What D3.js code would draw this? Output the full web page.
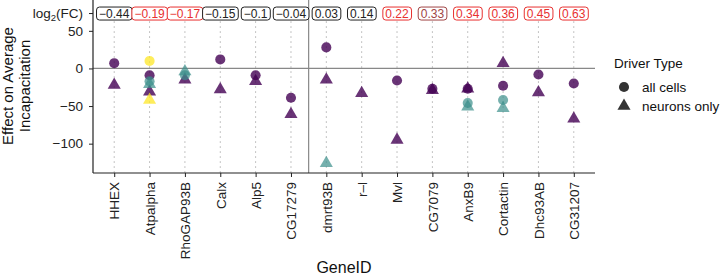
<!DOCTYPE html>
<html>
<head>
<meta charset="utf-8">
<script src="https://cdn.jsdelivr.net/npm/d3@7"></script>
<style>
  body { margin: 0; background: #fff; }
  text { font-family: "Liberation Sans", Arial, sans-serif; }
</style>
</head>
<body>
<div id="chart-area"></div>
<script>
// genes, ordered by log2 fold change
var genes = ["HHEX", "Atpalpha", "RhoGAP93B", "Calx", "Alp5", "CG17279", "dmrt93B",
    "r\u2013l", "Mvl", "CG7079", "AnxB9", "Cortactin", "Dhc93AB", "CG31207"];
var log2fc = ["\u22120.44", "\u22120.19", "\u22120.17", "\u22120.15", "\u22120.1", "\u22120.04", "0.03",
    "0.14", "0.22", "0.33", "0.34", "0.36", "0.45", "0.63"];
// 0 = not significant, 1 = significant, 2 = mixed
var fcFlag = [0, 1, 1, 0, 0, 0, 0, 0, 1, 2, 1, 1, 1, 1];

// effect values per gene (null = no point)
var purpleCells   = [7, -9, null, 12, -9, -39, 28, null, -16, -27, -27, -23, -8, -20];
var purpleNeurons = [-22, -31, -15, -28, -17, -61, -15, -33, -95, -29, -27, 7, -32, -67];
var tealCells     = [null, -17, -9, null, null, null, null, null, null, null, -46, -42, null, null];
var tealNeurons   = [null, -21, -4, null, null, null, -126, null, null, null, -51, -53, null, null];
var yellowCells   = [null, 10, null, null, null, null, null, null, null, null, null, null, null, null];
var yellowNeurons = [null, -42, null, null, null, null, null, null, null, null, null, null, null, null];

var yTicks = [50, 0, -50, -100];
var fcRow = 73;

var margin = {left: 93, right: 125, top: 0, bottom: 103};
var width = 720 - margin.left - margin.right;
var height = 276 - margin.top - margin.bottom;

var svg = d3.select("#chart-area").append("svg")
    .attr("width", 720)
    .attr("height", 276);
var g = svg.append("g")
    .attr("transform", "translate(" + margin.left + "," + margin.top + ")");

var x = d3.scalePoint()
    .domain(genes)
    .range([0, width])
    .padding(0.6);
var y = d3.scaleLinear()
    .domain([-139, 91])
    .range([height, 0]);

// dotted guide lines
g.selectAll(".guide")
    .data(genes)
    .enter().append("line")
    .attr("x1", d => x(d)).attr("x2", d => x(d))
    .attr("y1", y(fcRow) + 8).attr("y2", height)
    .attr("stroke", "#8a8a8a")
    .attr("stroke-width", 1)
    .attr("stroke-dasharray", "1,4");

// zero line and separator
g.append("line")
    .attr("x1", 0).attr("x2", width)
    .attr("y1", y(0)).attr("y2", y(0))
    .attr("stroke", "#888").attr("stroke-width", 1.2);
g.append("line")
    .attr("x1", (x(genes[5]) + x(genes[6])) / 2)
    .attr("x2", (x(genes[5]) + x(genes[6])) / 2)
    .attr("y1", 0).attr("y2", height)
    .attr("stroke", "#888").attr("stroke-width", 1.2);

// points
var circle = d3.symbol().type(d3.symbolCircle).size(80);
var tri = d3.symbol().type(d3.symbolTriangle).size(74);
function drawSeries(vals, sym, color, op) {
    var pts = [];
    vals.forEach((v, i) => { if (v !== null) pts.push({gene: genes[i], v: v}); });
    g.append("g").selectAll("path")
        .data(pts)
        .enter().append("path")
        .attr("d", sym)
        .attr("transform", d => "translate(" + x(d.gene) + "," + y(d.v) + ")")
        .attr("fill", color)
        .attr("fill-opacity", op);
}
drawSeries(purpleNeurons, tri, "#440154", 0.8);
drawSeries(purpleCells, circle, "#440154", 0.8);
drawSeries(yellowNeurons, tri, "#FDE725", 0.75);
drawSeries(yellowCells, circle, "#FDE725", 0.75);
drawSeries(tealNeurons, tri, "#3a8f8a", 0.7);
drawSeries(tealCells, circle, "#3a8f8a", 0.7);

// axes
var yAxis = d3.axisLeft(y)
    .tickValues(yTicks)
    .tickSize(4)
    .tickPadding(6)
    .tickFormat(d => d < 0 ? "\u2212" + Math.abs(d) : d);
var ya = g.append("g").attr("class", "y-axis").call(yAxis);
ya.select(".domain").attr("d", "M0,0V" + height).attr("stroke", "#222").attr("stroke-width", 1.2);
ya.selectAll(".tick line").attr("stroke", "#222");
ya.selectAll(".tick text").attr("font-size", "13.5px").attr("fill", "#222");

// log2(FC) tick
g.append("line")
    .attr("x1", -4).attr("x2", 0)
    .attr("y1", y(fcRow)).attr("y2", y(fcRow))
    .attr("stroke", "#222");
var fcLab = g.append("text")
    .attr("x", -10).attr("y", y(fcRow))
    .attr("dy", "0.32em")
    .attr("text-anchor", "end")
    .attr("font-size", "13.5px")
    .attr("fill", "#222");
fcLab.append("tspan").text("log");
fcLab.append("tspan").attr("font-size", "9.5px").attr("dy", "3").text("2");
fcLab.append("tspan").attr("dy", "-3").text("(FC)");

var xAxis = d3.axisBottom(x).tickSize(4);
var xa = g.append("g")
    .attr("class", "x-axis")
    .attr("transform", "translate(0," + height + ")")
    .call(xAxis);
xa.select(".domain").attr("d", "M0,0H" + width).attr("stroke", "#222").attr("stroke-width", 1.2);
xa.selectAll(".tick line").attr("stroke", "#222");
xa.selectAll(".tick text")
    .attr("font-size", "13.5px")
    .attr("fill", "#222")
    .attr("text-anchor", "end")
    .attr("transform", "rotate(-90)")
    .attr("x", -9)
    .attr("y", 0)
    .attr("dy", "0.35em");

// fold-change labels
var fcColors = ["#222", "#e8302f", "#a04545"];
var labs = g.selectAll(".fc")
    .data(genes)
    .enter().append("g")
    .attr("class", "fc")
    .attr("transform", d => "translate(" + x(d) + "," + y(fcRow) + ")");
labs.append("text")
    .attr("text-anchor", "middle")
    .attr("dy", "0.36em")
    .attr("font-size", "12px")
    .attr("fill", (d, i) => fcColors[fcFlag[i]])
    .text((d, i) => log2fc[i]);
labs.each(function (d, i) {
    var bb = d3.select(this).select("text").node().getBBox();
    d3.select(this).insert("rect", "text")
        .attr("x", bb.x - 2.5).attr("y", -6.5)
        .attr("width", bb.width + 5).attr("height", 13)
        .attr("rx", 3)
        .attr("fill", "#fff")
        .attr("stroke", fcColors[fcFlag[i]])
        .attr("stroke-width", 1);
});

// axis titles
svg.append("text")
    .attr("x", margin.left + width / 2)
    .attr("y", 273)
    .attr("text-anchor", "middle")
    .attr("font-size", "16px")
    .attr("fill", "#111")
    .text("GeneID");
var yt = svg.append("text")
    .attr("transform", "translate(13,86) rotate(-90)")
    .attr("text-anchor", "middle")
    .attr("font-size", "15px")
    .attr("fill", "#111");
yt.append("tspan").attr("x", 0).attr("dy", 0).text("Effect on Average");
yt.append("tspan").attr("x", 0).attr("dy", "1.1em").text("Incapacitation");

// legend
var lg = svg.append("g").attr("transform", "translate(614,0)");
lg.append("text").attr("x", 0).attr("y", 68)
    .attr("font-size", "13.5px").attr("fill", "#111").text("Driver Type");
lg.append("path").attr("d", circle)
    .attr("transform", "translate(10,87)").attr("fill", "#333");
lg.append("path").attr("d", tri)
    .attr("transform", "translate(10,106)").attr("fill", "#333");
lg.append("text").attr("x", 28).attr("y", 87).attr("dy", "0.35em")
    .attr("font-size", "13.5px").attr("fill", "#111").text("all cells");
lg.append("text").attr("x", 28).attr("y", 106).attr("dy", "0.35em")
    .attr("font-size", "13.5px").attr("fill", "#111").text("neurons only");
</script>
</body>
</html>
